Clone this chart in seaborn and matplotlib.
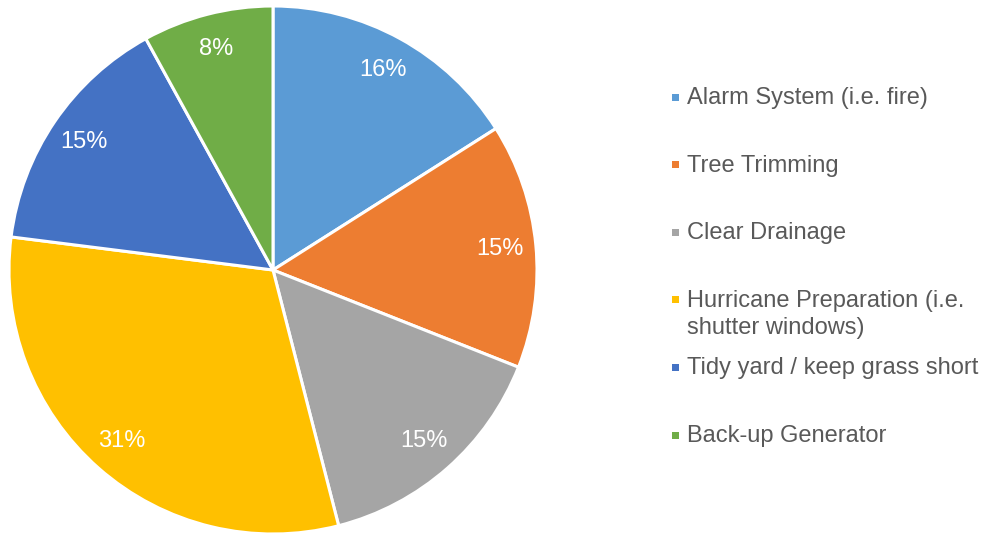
import matplotlib
matplotlib.use("Agg")
import matplotlib.pyplot as plt
from matplotlib.patches import Rectangle
import seaborn as sns

categories = [
    "Alarm System (i.e. fire)",
    "Tree Trimming",
    "Clear Drainage",
    "Hurricane Preparation (i.e.\nshutter windows)",
    "Tidy yard / keep grass short",
    "Back-up Generator",
]
values = [16, 15, 15, 31, 15, 8]
colors = ["#5B9BD5", "#ED7D31", "#A5A5A5", "#FFC000", "#4472C4", "#70AD47"]

sns.set_theme(style="white")
plt.rcParams["font.family"] = ["Liberation Sans", "DejaVu Sans"]
palette = sns.color_palette(colors)

fig = plt.figure(figsize=(9.94, 5.36), dpi=100)
fig.patch.set_facecolor("white")

W, H = 994, 536
cx, cy, r = 273, 270, 264
ax = fig.add_axes([(cx - r) / W, (H - cy - r) / H, 2 * r / W, 2 * r / H])
wedges, texts, autotexts = ax.pie(
    values,
    colors=palette,
    startangle=90,
    counterclock=False,
    autopct="%1.0f%%",
    pctdistance=0.865,
    radius=1,
    wedgeprops=dict(edgecolor="white", linewidth=2.2, clip_on=False),
    textprops=dict(color="white", fontsize=17),
)
ax.set_xlim(-1.0, 1.0)
ax.set_ylim(-1.0, 1.0)
ax.set_aspect("equal")
ax.axis("off")

# legend
x_sq, x_txt = 672, 687
y0, dy = 97, 67.6
sq = 7
for i, (lab, col) in enumerate(zip(categories, palette)):
    yc = y0 + dy * i
    fig.add_artist(Rectangle(((x_sq) / W, (H - yc - sq / 2) / H), sq / W, sq / H,
                             transform=fig.transFigure, facecolor=col, edgecolor="none"))
    fig.text(x_txt / W, (H - yc + 10) / H, lab, ha="left", va="top",
             fontsize=17, color="#595959", linespacing=1.3)

fig.savefig("out.png", dpi=100, facecolor="white")
